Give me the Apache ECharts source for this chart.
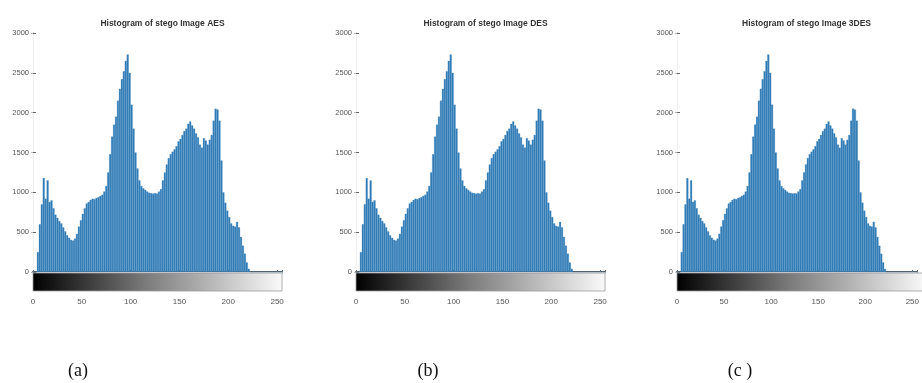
<!DOCTYPE html>
<html>
<head>
<meta charset="utf-8">
<title>Histograms of stego images</title>
<script src="https://cdn.jsdelivr.net/npm/echarts@6/dist/echarts.min.js"></script>
<style>
html, body { margin: 0; padding: 0; background: #fff; }
#chart { width: 922px; height: 383px; }
</style>
</head>
<body>
<div id="chart"></div>
<script>
// gray level of each bin (two levels per bin)
var grayLevels = [
  0, 2, 4, 6, 8, 10, 12, 14, 16, 18, 20, 22, 24, 26, 28, 30,
  32, 34, 36, 38, 40, 42, 44, 46, 48, 50, 52, 54, 56, 58, 60, 62,
  64, 66, 68, 70, 72, 74, 76, 78, 80, 82, 84, 86, 88, 90, 92, 94,
  96, 98, 100, 102, 104, 106, 108, 110, 112, 114, 116, 118, 120, 122, 124, 126,
  128, 130, 132, 134, 136, 138, 140, 142, 144, 146, 148, 150, 152, 154, 156, 158,
  160, 162, 164, 166, 168, 170, 172, 174, 176, 178, 180, 182, 184, 186, 188, 190,
  192, 194, 196, 198, 200, 202, 204, 206, 208, 210, 212, 214, 216, 218, 220, 222,
  224, 226, 228, 230, 232, 234, 236, 238, 240, 242, 244, 246, 248, 250, 252, 254
];
// pixel counts (the three histograms look the same)
var aesCounts = [
  0, 0, 250, 600, 850, 1180, 920, 1150, 880, 900, 800, 720, 680, 640, 610, 560,
  510, 460, 430, 405, 395, 420, 480, 570, 650, 730, 800, 860, 880, 905, 920, 915,
  930, 940, 955, 970, 1010, 1080, 1250, 1480, 1700, 1850, 1950, 2150, 2300, 2420, 2520, 2650,
  2730, 2500, 2100, 1800, 1500, 1300, 1150, 1080, 1050, 1030, 1010, 995, 990, 985, 990, 985,
  1010, 1040, 1150, 1250, 1350, 1430, 1480, 1510, 1540, 1580, 1640, 1670, 1720, 1770, 1800, 1860,
  1890, 1840, 1800, 1740, 1690, 1600, 1560, 1680, 1650, 1600, 1660, 1720, 1900, 2050, 2040, 1900,
  1400, 1000, 870, 770, 690, 610, 580, 570, 630, 560, 440, 330, 230, 120, 40, 0,
  0, 0, 0, 0, 0, 0, 0, 0, 0, 0, 0, 0, 0, 0, 0, 0
];
var desCounts = aesCounts;
var tripleDesCounts = aesCounts;

var panelTitles = ['Histogram of stego Image AES', 'Histogram of stego Image DES', 'Histogram of stego Image 3DES'];
var panelCaptions = ['(a)', '(b)', '(c )'];
var panelCounts = [aesCounts, desCounts, tripleDesCounts];

// layout
var panelLeft = [33, 356, 677];
var plotTop = 33, plotWidth = 249, plotHeight = 239, barHeight = 18;
var captionX = [73, 423, 735];

var chart = echarts.init(document.getElementById('chart'));

var grids = [], xAxes = [], yAxes = [], series = [], titles = [], graphics = [];

for (var i = 0; i < 3; i++) {
  grids.push({ left: panelLeft[i], top: plotTop, width: plotWidth, height: plotHeight });

  // bottom axis
  xAxes.push({
    type: 'value', gridIndex: i, min: 0, max: 255, interval: 50,
    axisLine: { show: true, lineStyle: { color: '#555', width: 2 } },
    axisTick: { show: false },
    splitLine: { show: false },
    axisLabel: {
      margin: 26, fontSize: 8, color: '#555', fontFamily: 'Liberation Sans',
      formatter: function (v) { return v % 50 === 0 ? String(v) : ''; }
    }
  });
  // faint top box edge
  xAxes.push({
    type: 'value', gridIndex: i, position: 'top', min: 0, max: 255, interval: 50,
    axisLine: { show: true, lineStyle: { color: '#ececec', width: 1 } },
    axisTick: { show: true, length: 2, lineStyle: { color: '#666' } },
    axisLabel: { show: false },
    splitLine: { show: false }
  });

  yAxes.push({
    type: 'value', gridIndex: i, min: 0, max: 3000, interval: 500,
    axisLine: { show: true, lineStyle: { color: '#666', width: 1 } },
    axisTick: { show: true, inside: true, length: 3, lineStyle: { color: '#666' } },
    splitLine: { show: false },
    axisLabel: {
      margin: 4, fontSize: 7.5, color: '#555', fontFamily: 'Liberation Sans',
      formatter: function (v) { return String(v); }
    }
  });
  yAxes.push({
    type: 'value', gridIndex: i, position: 'right', min: 0, max: 3000, interval: 500,
    axisLine: { show: true, lineStyle: { color: '#f0f0f0', width: 1 } },
    axisTick: { show: true, inside: true, length: 2, lineStyle: { color: '#bbb' } },
    splitLine: { show: false },
    axisLabel: { show: false }
  });

  series.push({
    type: 'bar',
    xAxisIndex: i * 2,
    yAxisIndex: i * 2,
    barWidth: 2,
    itemStyle: { color: '#2f7ab4', borderColor: '#4a90c6', borderWidth: 0.3 },
    data: grayLevels.map(function (g, k) { return [g + 1, panelCounts[i][k]]; }),
    z: 1
  });

  titles.push({
    text: panelTitles[i],
    left: panelLeft[i] + plotWidth / 2,
    top: 14,
    textAlign: 'center',
    textStyle: { fontSize: 8.5, fontWeight: 'bold', color: '#333', fontFamily: 'Liberation Sans' }
  });
  titles.push({
    text: panelCaptions[i],
    left: captionX[i],
    top: 357,
    textAlign: 'center',
    textStyle: { fontSize: 18, fontWeight: 'normal', color: '#111', fontFamily: 'Liberation Serif' }
  });

  // gray colour bar under the axis
  graphics.push({
    type: 'rect',
    shape: { x: panelLeft[i], y: plotTop + plotHeight + 1, width: plotWidth, height: barHeight },
    style: {
      fill: new echarts.graphic.LinearGradient(0, 0, 1, 0, [
        { offset: 0, color: '#000' },
        { offset: 0.45, color: '#7a7a7a' },
        { offset: 1, color: '#fafafa' }
      ]),
      stroke: '#999',
      lineWidth: 0.8
    },
    z: 10
  });
}

chart.setOption({
  animation: false,
  backgroundColor: '#fff',
  title: titles,
  grid: grids,
  xAxis: xAxes,
  yAxis: yAxes,
  series: series,
  graphic: graphics
});
</script>
</body>
</html>
